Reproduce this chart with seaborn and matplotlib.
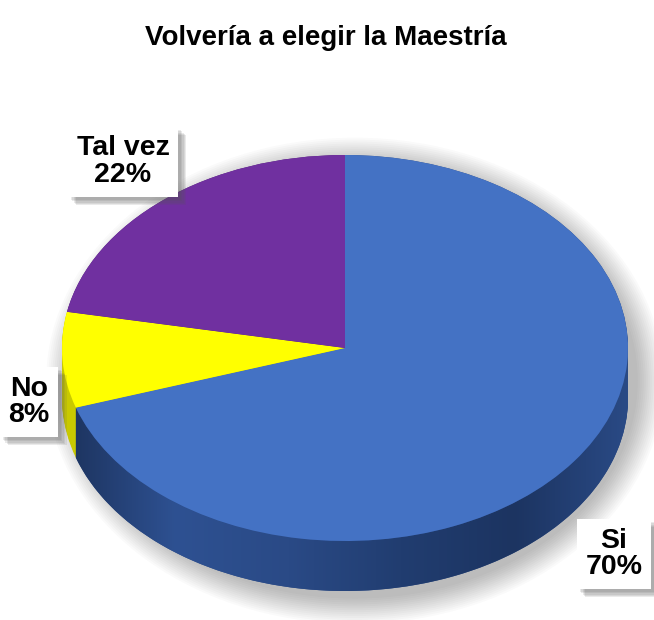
import numpy as np
import matplotlib
matplotlib.use('Agg')
import matplotlib.pyplot as plt
import matplotlib.patheffects as pe
from matplotlib.colors import LinearSegmentedColormap
from matplotlib.patches import Polygon, Ellipse
import seaborn as sns

# Data
categorias = ['Si', 'No', 'Tal vez']
porcentajes = [70, 8, 22]
colores = ['#4472C4', '#FFFF00', '#7030A0']
colores_lado = ['#2B4B87', '#C9C900', '#4E2172']

sns.set_theme(style='white')
plt.rcParams['font.family'] = ['Liberation Sans', 'DejaVu Sans']

W, H = 654, 620
fig = plt.figure(figsize=(W / 100, H / 100), dpi=100)
ax = fig.add_axes([0, 0, 1, 1])

# pie geometry in pixels (tilted ellipse)
cx, cy, rx, ry = 345, 348, 283, 193
depth = 50 / ry

# soft shadow behind the pie
for i in range(14):
    ax.add_patch(Ellipse((0.035, -depth / 2 - 0.04), 2.0 + 0.014 * i, 2.0 + depth + 0.02 * i,
                         facecolor='black', alpha=0.02, lw=0, zorder=0))

# side of the pie: stacked pies moved downwards
for d in np.linspace(depth, 0, 40):
    wedges, _ = ax.pie(porcentajes, colors=colores_lado, startangle=90, counterclock=False,
                       center=(0, -d), wedgeprops=dict(linewidth=0))
    for w in wedges:
        w.set_zorder(1)

# shading of the blue side
fin = 90 - 360 * porcentajes[0] / sum(porcentajes)   # end angle of 'Si'
th = np.radians(np.linspace(fin + 360, 360, 120))
top = np.column_stack([np.cos(th), np.sin(th)])
bot = np.column_stack([np.cos(th[::-1]), np.sin(th[::-1]) - depth])
clip = Polygon(np.vstack([top, bot]), closed=True, transform=ax.transData)
cmap = LinearSegmentedColormap.from_list('lado', ['#1C325C', '#2E5192', '#2A4A86',
                                                  '#213D70', '#1C3461', '#2A4A85'])
grad = np.linspace(0, 1, 256).reshape(1, -1)
im = ax.imshow(grad, cmap=cmap, extent=(-1, 1, -1 - depth, 0), aspect='auto', zorder=2)
im.set_clip_path(clip)

# top face
wedges, _ = ax.pie(porcentajes, colors=colores, startangle=90, counterclock=False,
                   wedgeprops=dict(linewidth=0))
for w in wedges:
    w.set_zorder(3)

ax.set_xlim(-cx / rx, (W - cx) / rx)
ax.set_ylim(-(H - cy) / ry, cy / ry)
ax.set_aspect('auto')
ax.axis('off')

# title
fig.text(326 / W, 1 - 38 / H, 'Volvería a elegir la Maestría', ha='center', va='center',
         fontsize=20, fontweight='bold', color='black')

# labels
pos_etiquetas = [(614, 554), (29, 402), (123, 162)]
sombra = [pe.SimplePatchShadow(offset=(k, -k), shadow_rgbFace='#555555', alpha=0.12)
          for k in (6, 5, 4, 3, 2)]
for cat, pct, (px, py) in zip(categorias, porcentajes, pos_etiquetas):
    t = fig.text(px / W, 1 - py / H, f'{cat}\n{pct}%', ha='center', va='center',
                 fontsize=20.5, fontweight='bold', color='black', linespacing=1.05,
                 bbox=dict(boxstyle='square,pad=0.3', facecolor='white', edgecolor='none'))
    t.get_bbox_patch().set_path_effects(sombra + [pe.Normal()])

fig.savefig('out.png', dpi=100)
